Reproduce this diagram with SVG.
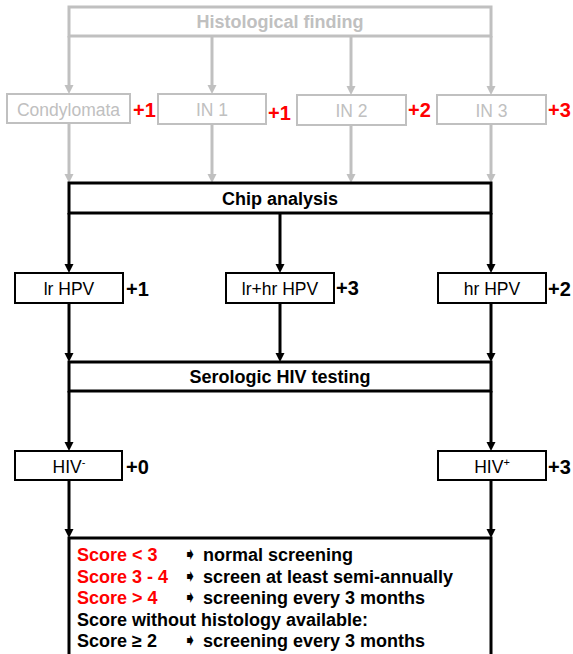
<svg xmlns="http://www.w3.org/2000/svg" width="573" height="654" viewBox="0 0 573 654">
<defs>
<style>
text{font-family:"Liberation Sans",Arial,sans-serif}
.g{fill:none;stroke:#c0c0c0}
.k{fill:#fff;stroke:#000}
.gl{stroke:#c0c0c0;stroke-width:3;fill:none}
.kl{stroke:#000;stroke-width:3;fill:none}
.gt{fill:#c0c0c0;font-size:17.5px}
.gtb{fill:#c0c0c0;font-size:18px;font-weight:bold}
.kt{fill:#000;font-size:17.5px}
.ktb{fill:#000;font-size:18px;font-weight:bold}
.sc{font-size:20px;font-weight:bold}
.red{fill:#ff0000}
.blk{fill:#000}
.arr{font-family:"DejaVu Sans",sans-serif;font-size:17px;fill:#000}
</style>
<marker id="ag" markerUnits="userSpaceOnUse" markerWidth="10" markerHeight="10" refX="5" refY="4.5" orient="auto"><path d="M0,0 L9,4.5 L0,9 z" fill="#c0c0c0"/></marker>
<marker id="ak" markerUnits="userSpaceOnUse" markerWidth="10" markerHeight="10" refX="5" refY="4.5" orient="auto"><path d="M0,0 L9,4.5 L0,9 z" fill="#000"/></marker>
</defs>
<rect width="573" height="654" fill="#fff"/>

<g id="connectors">
<path class="gl" d="M69,36 V90" marker-end="url(#ag)"/>
<path class="gl" d="M212,36 V90" marker-end="url(#ag)"/>
<path class="gl" d="M351,36 V91" marker-end="url(#ag)"/>
<path class="gl" d="M491,36 V91" marker-end="url(#ag)"/>
<path class="gl" d="M69,123 V179" marker-end="url(#ag)"/>
<path class="gl" d="M212,124 V179" marker-end="url(#ag)"/>
<path class="gl" d="M351,125 V179" marker-end="url(#ag)"/>
<path class="gl" d="M491,124 V179" marker-end="url(#ag)"/>
<path class="kl" d="M69,213 V269" marker-end="url(#ak)"/>
<path class="kl" d="M280,213 V269" marker-end="url(#ak)"/>
<path class="kl" d="M491,213 V269" marker-end="url(#ak)"/>
<path class="kl" d="M69,303 V358" marker-end="url(#ak)"/>
<path class="kl" d="M280,303 V358" marker-end="url(#ak)"/>
<path class="kl" d="M491,303 V358" marker-end="url(#ak)"/>
<path class="kl" d="M69,391 V447" marker-end="url(#ak)"/>
<path class="kl" d="M491,391 V447" marker-end="url(#ak)"/>
<path class="kl" d="M69,480 V534" marker-end="url(#ak)"/>
<path class="kl" d="M491,480 V534" marker-end="url(#ak)"/>
</g>

<g id="histological">
<rect class="g" x="69" y="7" width="422" height="29" stroke-width="3"/>
<text class="gtb" x="280" y="28" text-anchor="middle">Histological finding</text>
</g>

<g id="condylomata">
<rect class="g" x="7" y="94" width="123" height="29" stroke-width="2"/>
<text class="gt" x="68.5" y="115.5" text-anchor="middle">Condylomata</text>
<text class="sc red" x="133" y="116.5">+1</text>
</g>
<g id="in1">
<rect class="g" x="158" y="94" width="108" height="30" stroke-width="2"/>
<text class="gt" x="212" y="116" text-anchor="middle">IN 1</text>
<text class="sc red" x="268" y="120">+1</text>
</g>
<g id="in2">
<rect class="g" x="297" y="95" width="109" height="30" stroke-width="2"/>
<text class="gt" x="351.5" y="117" text-anchor="middle">IN 2</text>
<text class="sc red" x="408" y="117">+2</text>
</g>
<g id="in3">
<rect class="g" x="437" y="95" width="109" height="29" stroke-width="2"/>
<text class="gt" x="491.5" y="116.5" text-anchor="middle">IN 3</text>
<text class="sc red" x="548" y="117">+3</text>
</g>

<g id="chip">
<rect class="k" x="69" y="183" width="422" height="30" stroke-width="3"/>
<text class="ktb" x="280" y="204.5" text-anchor="middle">Chip analysis</text>
</g>

<g id="lrhpv">
<rect class="k" x="15" y="273" width="108" height="30" stroke-width="2"/>
<text class="kt" x="69" y="294.5" text-anchor="middle">lr HPV</text>
<text class="sc blk" x="126" y="295.5">+1</text>
</g>
<g id="lrhrhpv">
<rect class="k" x="226" y="273" width="108" height="30" stroke-width="2"/>
<text class="kt" x="280" y="294.5" text-anchor="middle">lr+hr HPV</text>
<text class="sc blk" x="336" y="294.5">+3</text>
</g>
<g id="hrhpv">
<rect class="k" x="438" y="273" width="108" height="30" stroke-width="2"/>
<text class="kt" x="492" y="294.5" text-anchor="middle">hr HPV</text>
<text class="sc blk" x="548" y="295.5">+2</text>
</g>

<g id="serologic">
<rect class="k" x="69" y="362" width="422" height="29" stroke-width="3"/>
<text class="ktb" x="280" y="383" text-anchor="middle">Serologic HIV testing</text>
</g>

<g id="hivneg">
<rect class="k" x="15" y="451" width="107" height="29" stroke-width="2"/>
<text class="kt" x="69" y="473" text-anchor="middle">HIV<tspan font-size="11" dy="-7">-</tspan></text>
<text class="sc blk" x="126" y="474">+0</text>
</g>
<g id="hivpos">
<rect class="k" x="438" y="451" width="108" height="29" stroke-width="2"/>
<text class="kt" x="492" y="473" text-anchor="middle">HIV<tspan font-size="11" dy="-7">+</tspan></text>
<text class="sc blk" x="548" y="474">+3</text>
</g>

<g id="score">
<rect class="k" x="69" y="538" width="422" height="140" stroke-width="3"/>
<text class="ktb red" x="77" y="561">Score &lt; 3</text>
<text class="arr" x="183" y="560">➧</text>
<text class="ktb" x="203" y="561">normal screening</text>
<text class="ktb red" x="77" y="582.5">Score 3 - 4</text>
<text class="arr" x="183" y="581.5">➧</text>
<text class="ktb" x="203" y="582.5">screen at least semi-annually</text>
<text class="ktb red" x="77" y="604">Score &gt; 4</text>
<text class="arr" x="183" y="603">➧</text>
<text class="ktb" x="203" y="604">screening every 3 months</text>
<text class="ktb" x="77" y="625.5">Score without histology available:</text>
<text class="ktb" x="77" y="647">Score ≥ 2</text>
<text class="arr" x="183" y="646">➧</text>
<text class="ktb" x="203" y="647">screening every 3 months</text>
</g>
</svg>
